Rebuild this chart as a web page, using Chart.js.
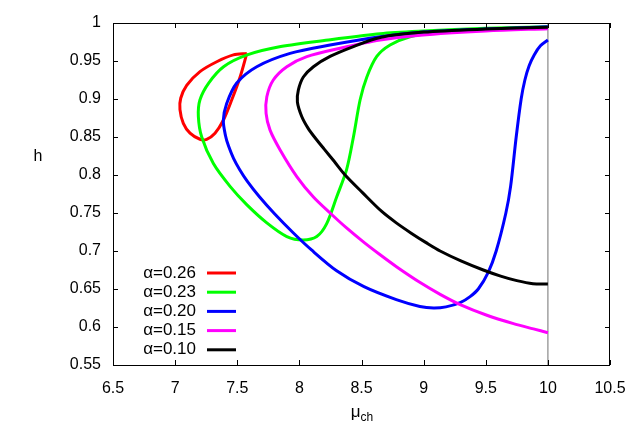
<!DOCTYPE html>
<html>
<head>
<meta charset="utf-8">
<script src="https://cdn.jsdelivr.net/npm/chart.js@4.4.1/dist/chart.umd.min.js"></script>
<style>
  html, body { margin: 0; padding: 0; background: #ffffff; }
  #wrap { width: 640px; height: 448px; }
</style>
</head>
<body>
<div id="wrap"><canvas id="c" width="640" height="448"></canvas></div>
<script>
// ---- data ----
const seriesLabels = ['α=0.26', 'α=0.23', 'α=0.20', 'α=0.15', 'α=0.10'];
const seriesColors = ['#ff0000', '#00ff00', '#0000ff', '#ff00ff', '#000000'];

const mu026 = [7.577, 7.469, 7.335, 7.200, 7.093, 7.045, 7.039, 7.066, 7.120, 7.200, 7.254, 7.321, 7.388, 7.456, 7.523, 7.577];
const h026  = [0.960, 0.958, 0.949, 0.936, 0.918, 0.901, 0.886, 0.868, 0.855, 0.847, 0.847, 0.855, 0.872, 0.899, 0.929, 0.960];

const mu023 = [10.0, 9.5, 9.0, 8.65, 8.25, 7.85, 7.58, 7.39, 7.27, 7.20, 7.187, 7.214, 7.308, 7.442, 7.576, 7.738, 7.899, 8.03, 8.14, 8.22, 8.30, 8.38, 8.435, 8.489, 8.543, 8.623, 8.73, 8.89, 9.08, 9.5, 10.0];
const h023  = [0.995, 0.993, 0.9895, 0.986, 0.978, 0.969, 0.958, 0.9425, 0.921, 0.899, 0.877, 0.850, 0.815, 0.785, 0.761, 0.737, 0.719, 0.7145, 0.719, 0.736, 0.771, 0.807, 0.850, 0.899, 0.929, 0.956, 0.971, 0.982, 0.9864, 0.991, 0.994];

const mu020 = [10.0, 9.5, 9.0, 8.65, 8.247, 7.925, 7.657, 7.496, 7.415, 7.388, 7.405, 7.43, 7.47, 7.52, 7.58, 7.68, 7.80, 7.95, 8.10, 8.30, 8.52, 8.78, 8.97, 9.08, 9.18, 9.294, 9.374, 9.44, 9.52, 9.584, 9.662, 9.70, 9.745, 9.785, 9.815, 9.85, 9.89, 9.94, 10.0];
const h020  = [0.995, 0.992, 0.988, 0.982, 0.971, 0.960, 0.9425, 0.921, 0.894, 0.872, 0.852, 0.838, 0.822, 0.807, 0.792, 0.771, 0.749, 0.724, 0.701, 0.674, 0.653, 0.636, 0.627, 0.625, 0.6265, 0.632, 0.640, 0.650, 0.672, 0.700, 0.750, 0.785, 0.850, 0.900, 0.925, 0.944, 0.958, 0.970, 0.9776];

const mu015 = [10.0, 9.5, 8.97, 8.65, 8.328, 8.06, 7.899, 7.79, 7.738, 7.732, 7.764, 7.845, 7.979, 8.113, 8.247, 8.382, 8.515, 8.65, 8.784, 8.972, 9.133, 9.294, 9.509, 9.723, 9.884, 10.0];
const h015  = [0.9925, 0.9895, 0.984, 0.9776, 0.9667, 0.9557, 0.9425, 0.925, 0.903, 0.881, 0.859, 0.833, 0.798, 0.771, 0.750, 0.730, 0.712, 0.695, 0.679, 0.6585, 0.643, 0.6295, 0.6155, 0.6045, 0.5975, 0.5925];

const mu010 = [10.0, 9.5, 9.0, 8.65, 8.435, 8.247, 8.113, 8.032, 7.992, 7.984, 8.019, 8.072, 8.126, 8.20, 8.28, 8.368, 8.51, 8.663, 8.78, 8.90, 9.02, 9.133, 9.30, 9.48, 9.62, 9.75, 9.88, 10.0];
const h010  = [0.9945, 0.992, 0.988, 0.981, 0.969, 0.956, 0.9425, 0.929, 0.912, 0.896, 0.877, 0.861, 0.849, 0.834, 0.818, 0.800, 0.7765, 0.752, 0.737, 0.7235, 0.711, 0.700, 0.687, 0.675, 0.667, 0.661, 0.657, 0.6566];

const muAll = [mu026, mu023, mu020, mu015, mu010];
const hAll  = [h026, h023, h020, h015, h010];

const boundaryMu = [10.0, 10.0];
const boundaryH  = [0.55, 1.0];

const xMin = 6.5, xMax = 10.5, xStep = 0.5;
const yMin = 0.55, yMax = 1.0, yStep = 0.05;

const FONT = '"Liberation Sans", Arial, Helvetica, sans-serif';

function pts(xs, ys) { return xs.map((x, i) => ({ x: x, y: ys[i] })); }

const datasets = muAll.map((xs, i) => ({
  label: seriesLabels[i],
  data: pts(xs, hAll[i]),
  borderColor: seriesColors[i],
  backgroundColor: seriesColors[i],
  borderWidth: 3,
  pointRadius: 0,
  showLine: true,
  tension: 0.3,
  fill: false,
  order: 5 - i
}));
datasets.push({
  label: 'boundary',
  data: pts(boundaryMu, boundaryH),
  borderColor: '#a0a0a0',
  borderWidth: 1.5,
  pointRadius: 0,
  showLine: true,
  tension: 0,
  fill: false,
  order: 10
});

const framePlugin = {
  id: 'frame',
  afterDatasetsDraw(chart) {
    const ctx = chart.ctx;
    const a = chart.chartArea;
    const xs = chart.scales.x, ys = chart.scales.y;
    ctx.save();
    ctx.strokeStyle = '#000000';
    ctx.lineWidth = 1;
    const tl = 5;
    ctx.beginPath();
    xs.ticks.forEach(t => {
      const px = Math.round(xs.getPixelForValue(t.value)) + 0.5;
      ctx.moveTo(px, a.bottom); ctx.lineTo(px, a.bottom - tl);
      ctx.moveTo(px, a.top); ctx.lineTo(px, a.top + tl);
    });
    ys.ticks.forEach(t => {
      const py = Math.round(ys.getPixelForValue(t.value)) + 0.5;
      ctx.moveTo(a.left, py); ctx.lineTo(a.left + tl, py);
      ctx.moveTo(a.right, py); ctx.lineTo(a.right - tl, py);
    });
    ctx.stroke();
    ctx.strokeRect(Math.round(a.left) + 0.5, Math.round(a.top) + 0.5,
                   Math.round(a.right - a.left) - 1, Math.round(a.bottom - a.top));
    ctx.restore();
  },
  afterDraw(chart) {
    const ctx = chart.ctx;
    ctx.save();
    const ds = chart.data.datasets.filter(d => d.label !== 'boundary');
    ctx.font = '17px ' + FONT;
    ctx.textAlign = 'right';
    ctx.textBaseline = 'middle';
    ds.forEach((d, i) => {
      const y = 273 + i * 19.2;
      ctx.fillStyle = '#000000';
      ctx.fillText(d.label, 196, y);
      ctx.strokeStyle = d.borderColor;
      ctx.lineWidth = 3;
      ctx.beginPath();
      ctx.moveTo(207, y); ctx.lineTo(236, y);
      ctx.stroke();
    });
    ctx.fillStyle = '#000000';
    ctx.textAlign = 'center';
    ctx.textBaseline = 'middle';
    ctx.font = '16px ' + FONT;
    ctx.fillText('h', 38, 157);
    ctx.textAlign = 'left';
    ctx.textBaseline = 'alphabetic';
    ctx.font = '17px ' + FONT;
    const muW = ctx.measureText('μ').width;
    ctx.font = '12px ' + FONT;
    const chW = ctx.measureText('ch').width;
    const x0 = 362 - (muW + chW) / 2;
    ctx.font = '17px ' + FONT;
    ctx.fillText('μ', x0, 417);
    ctx.font = '12px ' + FONT;
    ctx.fillText('ch', x0 + muW, 421);
    ctx.restore();
  }
};

new Chart(document.getElementById('c'), {
  type: 'scatter',
  data: { datasets: datasets },
  options: {
    responsive: false,
    animation: false,
    devicePixelRatio: 1,
    layout: { padding: { top: 23, right: 30, left: 0, bottom: 0 } },
    plugins: { legend: { display: false }, tooltip: { enabled: false }, title: { display: false } },
    scales: {
      x: {
        type: 'linear', min: xMin, max: xMax,
        grid: { display: false, drawTicks: false, tickLength: 0 },
        border: { display: false },
        ticks: {
          stepSize: xStep, padding: 14, color: '#000000', maxRotation: 0,
          font: { family: FONT, size: 16 },
          callback: v => String(Number(v.toFixed(2)))
        },
        afterFit(s) { s.height = 83; }
      },
      y: {
        type: 'linear', min: yMin, max: yMax,
        grid: { display: false, drawTicks: false, tickLength: 0 },
        border: { display: false },
        ticks: {
          stepSize: yStep, padding: 12, color: '#000000',
          font: { family: FONT, size: 16 },
          callback: v => String(Number(v.toFixed(2)))
        },
        afterFit(s) { s.width = 113; }
      }
    }
  },
  plugins: [framePlugin]
});
</script>
</body>
</html>
